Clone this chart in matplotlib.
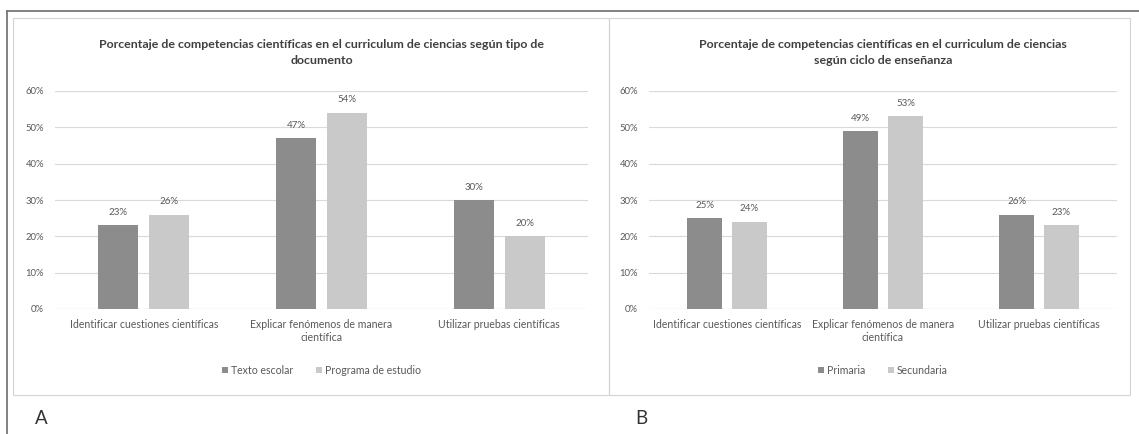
import matplotlib.pyplot as plt
import numpy as np
from matplotlib.patches import Rectangle
from matplotlib.lines import Line2D

plt.rcParams['font.family'] = ['Lato', 'DejaVu Sans']

categorias = ['Identificar cuestiones científicas',
              'Explicar fenómenos de manera\ncientífica',
              'Utilizar pruebas científicas']

# panel A: por tipo de documento
texto_escolar = [23, 47, 30]
programa_estudio = [26, 54, 20]
# panel B: por ciclo de enseñanza
primaria = [25, 49, 26]
secundaria = [24, 53, 23]

titulo_a = 'Porcentaje de competencias científicas en el curriculum de ciencias según tipo de\ndocumento'
titulo_b = 'Porcentaje de competencias científicas en el curriculum de ciencias\nsegún ciclo de enseñanza'

oscuro = '#8c8c8c'
claro = '#c9c9c9'
gris_texto = '#595959'

W, H = 1139, 434
fig = plt.figure(figsize=(W / 100, H / 100), dpi=100)


def fx(px):
    return px / W


def fy(py):
    return 1 - py / H


# marco exterior (solo borde superior e izquierdo)
fig.add_artist(Line2D([fx(7), fx(7)], [fy(11), 0], color='#777777', lw=1.3))
fig.add_artist(Line2D([fx(7), 1], [fy(11), fy(11)], color='#777777', lw=1.3))
# cajas de los dos graficos
for x0, x1 in [(13, 609), (609, 1130)]:
    fig.add_artist(Rectangle((fx(x0), fy(395)), fx(x1 - x0), fy(18) - fy(395),
                             fill=False, ec='#d4d4d4', lw=0.8))


def grafico(x0, x1, serie1, serie2, nombres, titulo, letra, lx):
    ax = fig.add_axes([fx(x0), fy(309), fx(x1 - x0), fy(91) - fy(309)])
    x = np.arange(len(categorias))
    w = 0.225
    d = 0.144
    b1 = ax.bar(x - d, serie1, w, color=oscuro, label=nombres[0], zorder=3)
    b2 = ax.bar(x + d, serie2, w, color=claro, label=nombres[1], zorder=3)
    for barras in (b1, b2):
        ax.bar_label(barras, labels=[f'{v}%' for v in barras.datavalues],
                     padding=6, fontsize=7, color=gris_texto)
    ax.set_xlim(-0.5, 2.5)
    ax.set_ylim(0, 60)
    ax.set_yticks(range(0, 61, 10))
    ax.set_yticklabels([f'{v}%' for v in range(0, 61, 10)])
    ax.set_xticks(x)
    ax.set_xticklabels(categorias, fontsize=7.6, color=gris_texto, linespacing=1.25)
    ax.tick_params(axis='y', labelsize=6.8, labelcolor=gris_texto, length=0, pad=8)
    ax.tick_params(axis='x', length=0, pad=7)
    ax.grid(axis='y', color='#d9d9d9', lw=0.8, zorder=0)
    for s in ax.spines.values():
        s.set_visible(False)
    ax.axhline(0, color='#d9d9d9', lw=0.8, zorder=1)
    ax.legend(loc='center', bbox_to_anchor=(0.5, -0.28), ncol=2, frameon=False,
              fontsize=7.6, labelcolor=gris_texto, handlelength=0.5, handleheight=0.5,
              handletextpad=0.3, columnspacing=2.2)
    fig.text(fx((x0 + x1) / 2), fy(39), titulo, ha='center', va='top', fontsize=8.9,
             fontweight='bold', color='#404040', linespacing=1.6)
    fig.text(fx(lx), fy(418), letra, ha='left', va='center', fontsize=13.5, color='#333333')


grafico(55, 588, texto_escolar, programa_estudio, ['Texto escolar', 'Programa de estudio'],
        titulo_a, 'A', 35)
grafico(649, 1117, primaria, secundaria, ['Primaria', 'Secundaria'],
        titulo_b, 'B', 635)

fig.savefig('out.png', dpi=100)
